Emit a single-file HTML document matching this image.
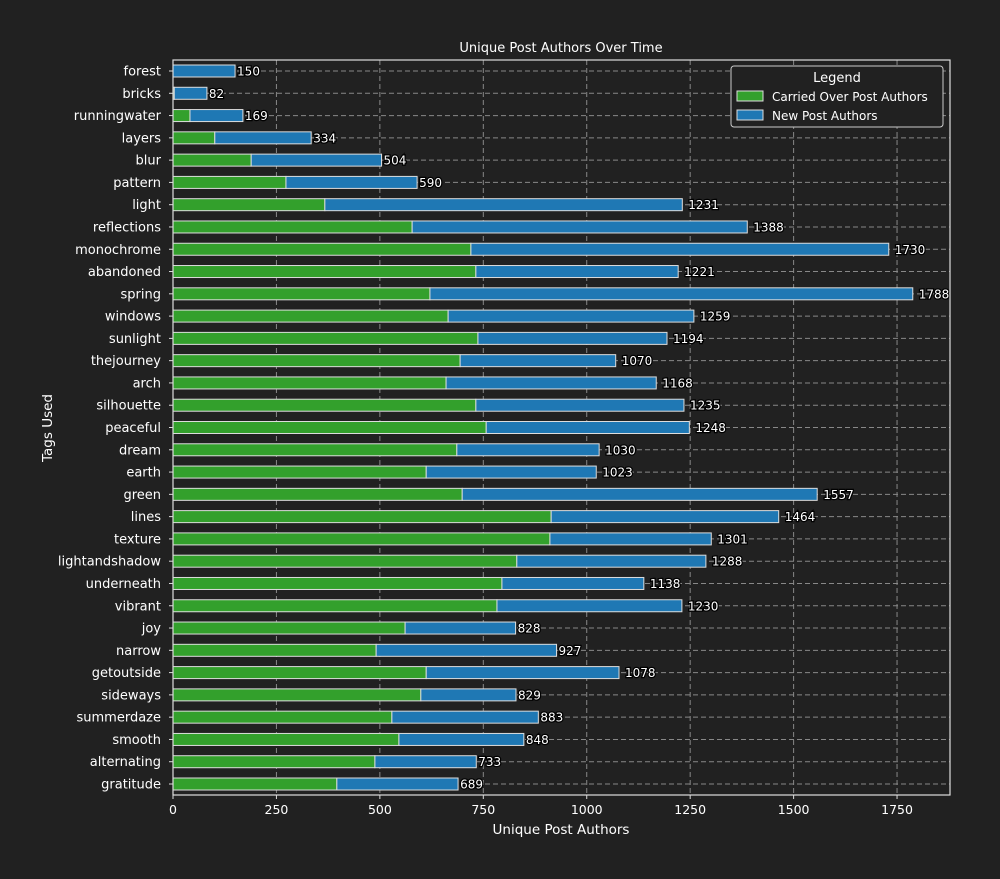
<!DOCTYPE html>
<html><head><meta charset="utf-8"><style>
html,body{margin:0;background:#212121;overflow:hidden;}
svg{display:block;}
svg text{font-family:"DejaVu Sans","Liberation Sans",sans-serif;}
</style></head><body>
<svg id="chart" width="1000" height="879" xmlns="http://www.w3.org/2000/svg">
<rect width="1000" height="879" fill="#212121"/>
<text x="561" y="52" fill="#ffffff" font-size="13" text-anchor="middle">Unique Post Authors Over Time</text>
<text x="561" y="834" fill="#ffffff" font-size="13.5" text-anchor="middle">Unique Post Authors</text>
<text x="52" y="428" fill="#ffffff" font-size="13.5" text-anchor="middle" transform="rotate(-90 52 428)">Tags Used</text>
<g id="grid"></g><g id="bars"></g><g id="axes"></g>
<g>
<rect x="731" y="66" width="212" height="61" rx="3" fill="#212121" stroke="#cccccc"/>
<text x="837" y="82" fill="#fff" font-size="13" text-anchor="middle">Legend</text>
<rect x="737" y="91" width="26" height="10" fill="#33a02c" stroke="#ddd"/>
<text x="772" y="101" fill="#fff" font-size="12">Carried Over Post Authors</text>
<rect x="737" y="110" width="26" height="10" fill="#1f78b4" stroke="#ddd"/>
<text x="772" y="120" fill="#fff" font-size="12">New Post Authors</text>
</g>
</svg>
<script>
const categories=["forest","bricks","runningwater","layers","blur","pattern","light","reflections","monochrome","abandoned","spring","windows","sunlight","thejourney","arch","silhouette","peaceful","dream","earth","green","lines","texture","lightandshadow","underneath","vibrant","joy","narrow","getoutside","sideways","summerdaze","smooth","alternating","gratitude"];
const carried=[0,3,41,101,189,273,367,578,720,732,621,665,737,694,660,732,757,686,612,699,914,911,831,795,783,561,491,612,599,529,546,488,396];
const totals=[150,82,169,334,504,590,1231,1388,1730,1221,1788,1259,1194,1070,1168,1235,1248,1030,1023,1557,1464,1301,1288,1138,1230,828,927,1078,829,883,848,733,689];
const xTicks=[0,250,500,750,1000,1250,1500,1750];
const NS="http://www.w3.org/2000/svg";
const L=173,R=950,T=60,B=795,XMAX=1878;
const x=v=>L+v*(R-L)/XMAX;
const yc=i=>71+i*(784-71)/(categories.length-1);
function mk(tag,attrs,parent){const e=document.createElementNS(NS,tag);for(const k in attrs)e.setAttribute(k,attrs[k]);parent.appendChild(e);return e;}
const grid=document.getElementById('grid'),bars=document.getElementById('bars'),axes=document.getElementById('axes');
xTicks.forEach(t=>{
 const g=mk('line',{x1:x(t),x2:x(t),y1:T,y2:B,stroke:'#888',"stroke-dasharray":'5,3'},grid);
 
 
 const tk=mk('line',{x1:x(t),x2:x(t),y1:B,y2:B+4,stroke:'#ddd'},axes);
 
 
 const tl=mk('text',{x:x(t),y:B+19,fill:'#fff',"font-size":12.5,"text-anchor":'middle'},axes);
 tl.textContent=t;
 
 
});
categories.forEach((c,i)=>{
 const y=yc(i);
 const g=mk('line',{x1:L,x2:R,y1:y,y2:y,stroke:'#888',"stroke-dasharray":'5,3'},grid);
 
 
 const b1=mk('rect',{x:x(0),y:y-6,width:x(carried[i])-x(0),height:12,fill:'#33a02c',stroke:'#dddddd',"stroke-width":1},bars);
 
 
 const b2=mk('rect',{x:x(carried[i]),y:y-6,width:x(totals[i])-x(carried[i]),height:12,fill:'#1f78b4',stroke:'#dddddd',"stroke-width":1},bars);
 
 
 const vl=mk('text',{x:x(totals[i])+(totals[i]>=1000?6:2),y:y+4.5,fill:'#fff',"font-size":12,stroke:'#000',"stroke-width":2.5,"paint-order":'stroke'},bars);
 vl.textContent=totals[i];
 
 
 const tk=mk('line',{x1:L-4,x2:L,y1:y,y2:y,stroke:'#ddd'},axes);
 
 
 const cl=mk('text',{x:L-12,y:y+4.5,fill:'#fff',"font-size":13,"text-anchor":'end'},axes);
 cl.textContent=c;
 
 
});
const fr=mk('rect',{x:L,y:T,width:R-L,height:B-T,fill:'none',stroke:'#dddddd',"stroke-width":1.2},axes);


</script>
</body></html>
